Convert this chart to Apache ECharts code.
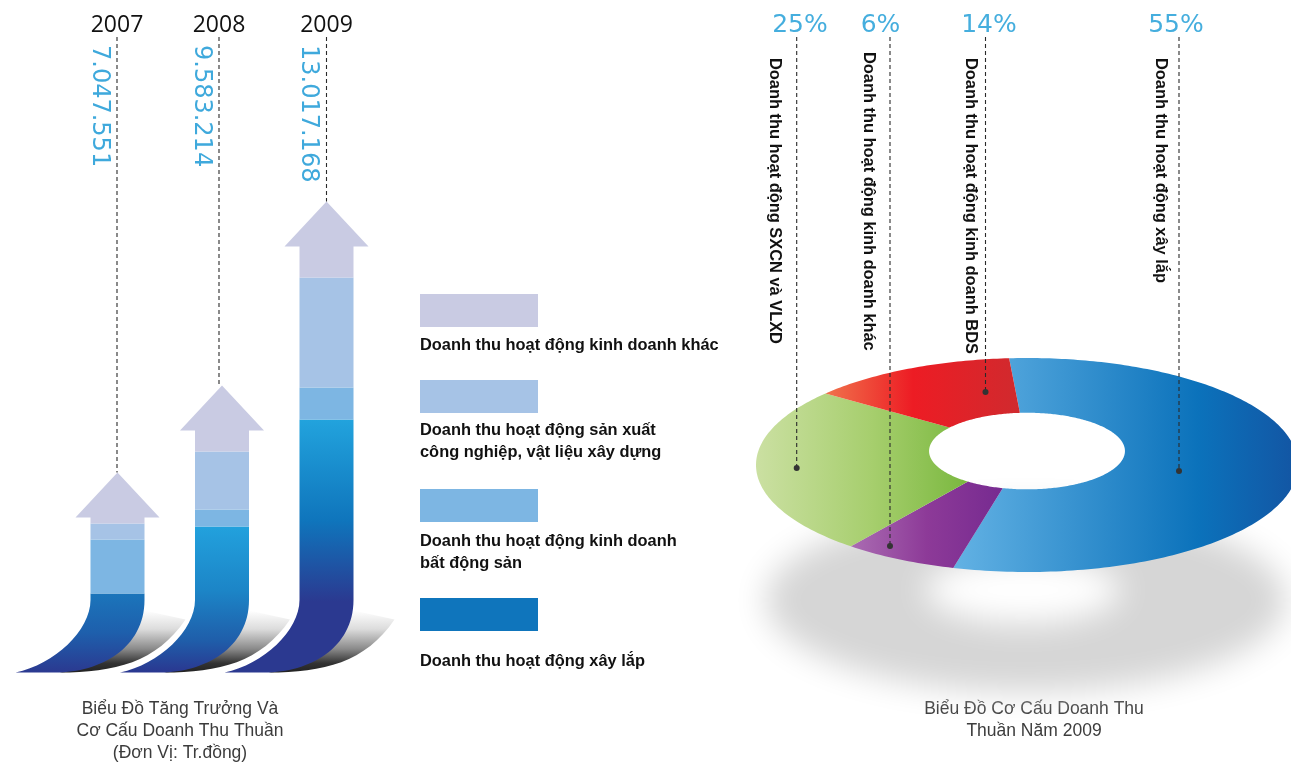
<!DOCTYPE html>
<html lang="vi">
<head>
<meta charset="utf-8">
<title>Biểu Đồ Doanh Thu</title>
<style>html,body{margin:0;padding:0;background:#fff}#chart{width:1291px;height:764px}</style>
<script src="https://cdn.jsdelivr.net/npm/echarts@6/dist/echarts.min.js"></script>
</head>
<body>
<div id="chart"></div>
<script>
// ---------- data ----------
const years = ['2007', '2008', '2009'];
const totals = [7047551, 9583214, 13017168];
// drawn length of each band of each arrow (arrow-length units)
const bandXayLap = [79, 146, 253];
const bandBDS = [54, 17, 32];
const bandSXCN = [16, 58, 110];
const bandKhac = [51, 66, 76];
const legendLabels = ['Doanh thu hoạt động kinh doanh khác',
  'Doanh thu hoạt động sản xuất\ncông nghiệp, vật liệu xây dựng',
  'Doanh thu hoạt động kinh doanh\nbất động sản',
  'Doanh thu hoạt động xây lắp'];
const leftCaption = 'Biểu Đồ Tăng Trưởng Và\nCơ Cấu Doanh Thu Thuần\n(Đơn Vị: Tr.đồng)';
const rightCaption = 'Biểu Đồ Cơ Cấu Doanh Thu\nThuần Năm 2009';
// 2009 revenue structure, in drawing order clockwise
const pieShares = [55, 6, 25, 14];
const pieNames = ['Doanh thu hoạt động xây lắp', 'Doanh thu hoạt động kinh doanh khác',
  'Doanh thu hoạt động SXCN và VLXD', 'Doanh thu hoạt động kinh doanh BDS'];

// ---------- style / layout ----------
const FONT_BOLD = '"Liberation Sans", Arial, sans-serif';
const FONT_NUM = '"DejaVu Sans", sans-serif';
const FONT_CAP = '"Open Sans", sans-serif';
const BLUE_TXT = '#3fa9dc';
const LEAD = { stroke: '#2a2a2a', lineWidth: 1.1, lineDash: [4, 3] };
const colLavender = '#c9cbe3', colSXCN = '#a6c3e6', colBDS = '#7db6e3', colDeep = '#0f75bc';
const deepStops = [
  [[0, '#1b75bb'], [0.5, '#1e5fac'], [1, '#2b3990']],
  [[0, '#22a1dd'], [0.44, '#1c85c7'], [0.78, '#1f5eaa'], [1, '#2a3790']],
  [[0, '#22a3dd'], [0.4, '#0f75bc'], [0.72, '#2b3990'], [1, '#2b3990']]
];
const SHAFT = 27, HEAD_W = 42, HEAD_H = 45, CURVE_Y = 600;
const leaderDx = [-0.5, -3, 0];
const LEADER_TOP = 37;
const PIE = { cx: 1027, cy: 465, rx: 271, ry: 107, tilt: 0.15, hole: 0.365, start: -4.4 };
const pieFills = [
  [[0, '#63b2e4'], [0.71, '#0b72bb'], [1, '#1355a3']],
  [[0, '#aa6cb2'], [0.5, '#8d3a98'], [1, '#762a90']],
  [[0, '#cbe0a2'], [0.55, '#a6ce6d'], [1, '#7ab83f']],
  [[0, '#f0734c'], [0.45, '#ed1c24'], [1, '#d02a2e']]
];
const pieLabelX = [1176, 880.5, 800, 989];
const pieNameX = [1161, 869, 775, 971];
const pieNameY = [58, 52, 58, 58];
const pieLeaderX = [1179, 890, 796.7, 985.5];
const pieLeaderY = [471, 546, 468, 392];

const fmt = n => String(n).replace(/\B(?=(\d{3})+$)/g, '.');
const grad = (stops, x2, y2) => new echarts.graphic.LinearGradient(0, 0, x2, y2,
  stops.map(s => ({ offset: s[0], color: s[1] })));

// ---------- arrows ----------
const stacks = [bandXayLap, bandBDS, bandSXCN, bandKhac];
function bandRenderer(level) {
  return function (params, api) {
    const i = api.value(0);
    let base = 0;
    for (let k = 0; k < level; k++) base += stacks[k][i];
    const p0 = api.coord([i, base]);
    const p1 = api.coord([i, base + api.value(1)]);
    const c = p0[0], L = c - SHAFT, R = c + SHAFT, y0 = p0[1], y1 = p1[1];
    let d, fill;
    if (level === 0) {
      const tipX = L - 75;
      d = `M${L} ${y1} L${R} ${y1} L${R} ${CURVE_Y} C${R} ${CURVE_Y + 48} ${R - 44} ${y0} ${R - 89} ${y0}`
        + ` L${tipX} ${y0} C${L - 36} ${y0 - 8} ${L} ${y0 - 42} ${L} ${CURVE_Y} Z`;
      fill = grad(deepStops[i], 0, 1);
    } else if (level === 3) {
      const hb = y1 + HEAD_H;
      d = `M${L} ${y0} L${L} ${hb} L${c - HEAD_W} ${hb} L${c} ${y1} L${c + HEAD_W} ${hb} L${R} ${hb} L${R} ${y0} Z`;
      fill = colLavender;
    } else {
      d = `M${L} ${y0} L${L} ${y1} L${R} ${y1} L${R} ${y0} Z`;
      fill = level === 1 ? colBDS : colSXCN;
    }
    return { type: 'path', shape: { pathData: d }, style: { fill: fill } };
  };
}
function arrowShadow(params, api) {
  const i = api.value(0);
  const p = api.coord([i, 0]);
  const c = p[0], R = c + SHAFT, L = c - SHAFT, y = p[1], tipX = L - 75;
  const d = `M${R - 85} ${y} C${R - 30} ${y} ${R + 12} ${y - 10} ${R + 41} ${y - 53}`
    + ` L${R} ${y - 62} L${R - 60} ${y - 5} Z`;
  const halo = `M${tipX} ${y} C${L - 36} ${y - 8} ${L} ${y - 42} ${L} ${CURVE_Y} L${L} ${CURVE_Y - 30}`;
  return {
    type: 'group', children: [
      { type: 'path', shape: { pathData: d },
        style: { fill: new echarts.graphic.LinearGradient(0, 0, 0, 1, [
          { offset: 0, color: '#ffffff' }, { offset: 0.3, color: '#dcdcdc' },
          { offset: 0.62, color: '#8a8a8a' }, { offset: 0.85, color: '#333333' }, { offset: 1, color: '#222222' }]) } },
      { type: 'path', shape: { pathData: halo }, style: { fill: null, stroke: '#fff', lineWidth: 9 } }
    ]
  };
}
function arrowLeader(params, api) {
  const i = api.value(0);
  let sum = 0;
  stacks.forEach(s => { sum += s[i]; });
  const tip = api.coord([i, sum]);
  const x = tip[0] + leaderDx[i];
  return {
    type: 'group', children: [
      { type: 'line', shape: { x1: x, y1: LEADER_TOP, x2: x, y2: tip[1] }, style: LEAD },
      { type: 'text', x: x, y: 25, style: { text: years[i], fontSize: 23, fontFamily: FONT_CAP, fill: '#111', align: 'center', verticalAlign: 'middle' } },
      { type: 'text', x: x - 18, y: 45, rotation: -Math.PI / 2, style: { text: fmt(totals[i]), fontSize: 24, fontFamily: FONT_NUM, fill: BLUE_TXT, align: 'left', verticalAlign: 'middle' } }
    ]
  };
}

// ---------- perspective donut ----------
function project(r, deg) {
  const t = deg * Math.PI / 180, a = PIE.tilt;
  const up = r * Math.cos(t), side = r * Math.sin(t), w = 1 + a * up;
  return [PIE.cx + PIE.rx * side * Math.sqrt(1 - a * a) / w, PIE.cy - PIE.ry * (up + a) / w];
}
function slicePath(a0, a1) {
  const pts = [], n = Math.max(8, Math.ceil(a1 - a0));
  for (let k = 0; k <= n; k++) pts.push(project(1, a0 + (a1 - a0) * k / n));
  for (let k = n; k >= 0; k--) pts.push(project(PIE.hole, a0 + (a1 - a0) * k / n));
  return 'M' + pts.map(p => p[0].toFixed(2) + ' ' + p[1].toFixed(2)).join(' L') + ' Z';
}
function pieSlice(params, api) {
  const i = params.dataIndex;
  const total = pieShares.reduce((s, v) => s + v, 0);
  let before = 0;
  for (let k = 0; k < i; k++) before += pieShares[k];
  const a0 = PIE.start + before / total * 360;
  const a1 = a0 + api.value(0) / total * 360;
  return { type: 'path', shape: { pathData: slicePath(a0, a1) }, style: { fill: grad(pieFills[i], 1, 0) } };
}
function pieLeader(params, api) {
  const i = params.dataIndex, x = pieLeaderX[i], y = pieLeaderY[i];
  return {
    type: 'group', children: [
      { type: 'line', shape: { x1: x, y1: LEADER_TOP, x2: x, y2: y }, style: LEAD },
      { type: 'circle', shape: { cx: x, cy: y, r: 3 }, style: { fill: '#333' } },
      { type: 'text', x: pieLabelX[i], y: 25, style: { text: api.value(0) + '%', fontSize: 25, fontFamily: FONT_NUM, fill: '#45aede', align: 'center', verticalAlign: 'middle' } },
      { type: 'text', x: pieNameX[i], y: pieNameY[i], rotation: -Math.PI / 2, style: { text: pieNames[i], fontSize: 16.4, fontWeight: 'bold', fontFamily: FONT_BOLD, fill: '#111', align: 'left', verticalAlign: 'middle' } }
    ]
  };
}
function ellipseRing(cx, cy, rx, ry, rx2, ry2, cy2, cx2) {
  const a = [], b = [];
  for (let k = 0; k < 120; k++) {
    const t = k / 120 * 2 * Math.PI;
    a.push((cx + rx * Math.cos(t)).toFixed(1) + ' ' + (cy + ry * Math.sin(t)).toFixed(1));
    b.push((cx2 + rx2 * Math.cos(-t)).toFixed(1) + ' ' + (cy2 + ry2 * Math.sin(-t)).toFixed(1));
  }
  return 'M' + a.join(' L') + ' Z M' + b.join(' L') + ' Z';
}
function pieShadow() {
  const OFF = 3000;
  return {
    type: 'path',
    shape: { pathData: ellipseRing(1026 - OFF, 600, 260, 92, 98, 33, 590, 1023 - OFF) },
    style: { fill: '#000', shadowColor: '#d6d6d6', shadowBlur: 32, shadowOffsetX: OFF, shadowOffsetY: 0 }
  };
}

// ---------- legend and captions ----------
const swatchColors = [colLavender, colSXCN, colBDS, colDeep];
const swatchTop = [294, 380, 489, 598];
const legendTextY = [345, 441, 552, 661];
const graphics = [];
legendLabels.forEach((txt, i) => {
  graphics.push({ type: 'rect', silent: true, shape: { x: 420, y: swatchTop[i], width: 118, height: 33 }, style: { fill: swatchColors[i] } });
  graphics.push({ type: 'text', silent: true, x: 420, y: legendTextY[i], style: { text: txt, font: 'bold 16.4px ' + FONT_BOLD, lineHeight: 22, fill: '#111', align: 'left', verticalAlign: 'middle' } });
});
graphics.push({ type: 'text', silent: true, x: 180, y: 731, style: { text: leftCaption, font: '17.5px ' + FONT_BOLD, lineHeight: 22, fill: '#3c3c3c', align: 'center', verticalAlign: 'middle' } });
graphics.push({ type: 'text', silent: true, x: 1034, y: 720, style: { text: rightCaption, font: '17.5px ' + FONT_BOLD, lineHeight: 22, fill: '#3c3c3c', align: 'center', verticalAlign: 'middle' } });

// ---------- chart ----------
const yearIdx = years.map((y, i) => i);
function bandSeries(level, name, values) {
  return { type: 'custom', name: name, silent: true, z: 3, coordinateSystem: 'cartesian2d',
    data: values.map((v, i) => [i, v]), encode: { x: 0, y: 1 }, renderItem: bandRenderer(level) };
}
const chart = echarts.init(document.getElementById('chart'), null, { renderer: 'canvas' });
chart.setOption({
  animation: false,
  backgroundColor: '#fff',
  tooltip: { show: false },
  grid: { left: 65.25, width: 313.5, top: 0, height: 672.5, containLabel: false },
  xAxis: { type: 'category', data: years, show: false },
  yAxis: { type: 'value', min: 0, max: 672.5, show: false },
  graphic: graphics,
  series: [
    { type: 'custom', silent: true, z: 1, coordinateSystem: 'none', data: [[1]], renderItem: pieShadow },
    { type: 'custom', silent: true, z: 2, coordinateSystem: 'cartesian2d', data: yearIdx.map(i => [i, 0]), encode: { x: 0, y: 1 }, renderItem: arrowShadow },
    bandSeries(0, 'Doanh thu hoạt động xây lắp', bandXayLap),
    bandSeries(1, 'Doanh thu hoạt động kinh doanh bất động sản', bandBDS),
    bandSeries(2, 'Doanh thu hoạt động sản xuất công nghiệp, vật liệu xây dựng', bandSXCN),
    bandSeries(3, 'Doanh thu hoạt động kinh doanh khác', bandKhac),
    { type: 'custom', silent: true, z: 4, coordinateSystem: 'cartesian2d', data: yearIdx.map(i => [i, totals[i]]), encode: { x: 0 }, renderItem: arrowLeader },
    { type: 'custom', name: 'Cơ cấu doanh thu 2009', silent: true, z: 3, coordinateSystem: 'none', data: pieShares.map(v => [v]), renderItem: pieSlice },
    { type: 'custom', silent: true, z: 4, coordinateSystem: 'none', data: pieShares.map(v => [v]), renderItem: pieLeader }
  ]
});
</script>
</body>
</html>
